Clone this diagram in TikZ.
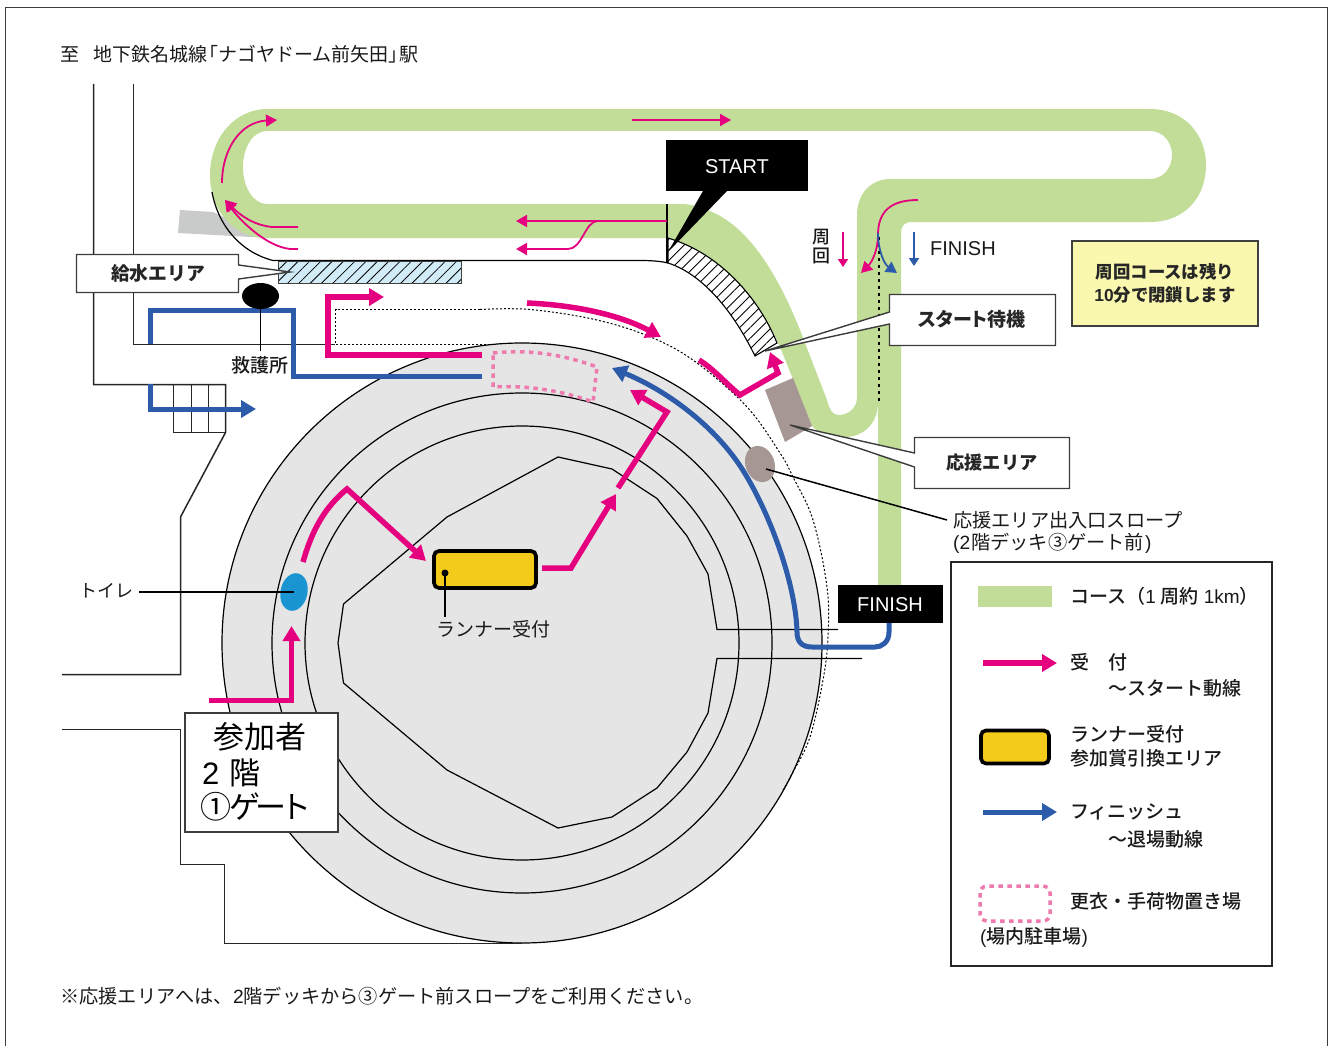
\documentclass[tikz,border=0pt]{standalone}
\usepackage{fontspec}
\setmainfont{Liberation Sans}
\newfontfamily\jp{Noto Sans CJK JP}
\newfontfamily\jpl{Noto Sans CJK JP Medium}
\newfontfamily\jpm{Noto Sans CJK JP}
\newfontfamily\jpp[RawFeature=+palt]{Noto Sans CJK JP}
\newfontfamily\lat{Liberation Sans}
\newfontfamily\latl{Liberation Sans}
\usetikzlibrary{arrows.meta,patterns.meta,shapes.geometric}
\definecolor{course}{HTML}{C1DD97}
\definecolor{mag}{HTML}{E4007F}
\definecolor{blu}{HTML}{2B5BA9}
\definecolor{ygold}{HTML}{F5CB1B}
\definecolor{beige}{HTML}{FAF7AE}
\definecolor{brownish}{HTML}{A69694}
\definecolor{wc}{HTML}{1A95D2}
\definecolor{stadium}{HTML}{E5E5E5}
\definecolor{pinkd}{HTML}{EE7AAE}
\definecolor{stub}{HTML}{C9CACA}
\definecolor{frame}{HTML}{3C3C3C}
\definecolor{waterfill}{HTML}{D2ECF7}
\tikzset{
  jt/.style={inner sep=0pt,font=\jp\fontsize{#1}{#1}\selectfont,text=black!90},
  jl/.style={inner sep=0pt,font=\jpl\fontsize{#1}{#1}\selectfont,text=black!90},
  jb/.style={inner sep=0pt,font=\jpm\bfseries\fontsize{#1}{#1}\selectfont,text=black!85},
  jp/.style={inner sep=0pt,font=\jpp\bfseries\fontsize{#1}{#1}\selectfont,text=black!85},
  wt/.style={inner sep=0pt,font=\latl\fontsize{20}{20}\selectfont,text=white},
  wall/.style={draw=black!85,line width=1.5pt},
  ring/.style={draw=black,line width=1.2pt},
  callout/.style={draw=frame,fill=white,line width=1.4pt,line join=miter},
  magthick/.style={draw=mag,line width=5.5pt,line join=miter},
  bluthick/.style={draw=blu,line width=5pt,line join=miter},
  magthin/.style={draw=mag,line width=1.8pt},
  bluthin/.style={draw=blu,line width=1.8pt},
  bighead/.style={-{Triangle[length=15pt,width=17pt]}},
  smallhead/.style={-{Triangle[length=11pt,width=12pt]}},
  tinyhead/.style={-{Triangle[length=8pt,width=10pt]}},
  pinkdash/.style={draw=pinkd,line width=3.5pt,dash pattern=on 4.5pt off 4.5pt},
}
\begin{document}
\begin{tikzpicture}[x=1pt,y=-1pt]
\useasboundingbox (0,0) rectangle (1330,1046);
% page frame
\draw[frame,line width=1.6pt] (5.5,1046) -- (5.5,7.5) -- (1327.5,7.5) -- (1327.5,1046);

% stadium
\path[fill=stadium,ring] (522,643) circle [radius=300];
\draw[ring] (522,643) circle [radius=250];
\draw[ring] (522,643) circle [radius=217];
\draw[ring] (838,629.5) -- (717,629.5) -- (708,574) -- (687,536) -- (657,498.5) -- (612,469) -- (558,457) -- (447,517) -- (343.5,604) -- (338,643) -- (343.5,683) -- (447,770) -- (558,828) -- (612,817) -- (657,788) -- (687,752) -- (708,713) -- (717,658.5) -- (862,658.5);

% surrounding walls
\draw[wall] (93.5,84) -- (93.5,384.5) -- (225.5,384.5) -- (225.5,432.5) -- (180.5,517) -- (180.5,674.5) -- (62,674.5);
\draw[wall] (133.5,84) -- (133.5,344.5) -- (335,344.5);
\draw[wall] (62,729.5) -- (180.5,729.5) -- (180.5,864.5) -- (224.5,864.5) -- (224.5,943.5) -- (522,943.5);
\draw[wall] (173.5,384.5) -- (173.5,432.5) -- (225.5,432.5);
\draw[wall] (191.5,384.5) -- (191.5,432.5);
\draw[wall] (208.5,384.5) -- (208.5,432.5);
\draw[wall] (173.5,409) -- (225.5,409);

% dotted route
\draw[black,line width=1pt,dash pattern=on 2pt off 2pt] (490,344.5) -- (335.5,344.5) -- (335.5,309.5) -- (480,309.5);
\draw[black,line width=1pt,dash pattern=on 2pt off 2pt] plot[smooth,tension=0.6] coordinates {(480,309.5) (530,309.5) (597,320) (653,338) (697,363) (747,407) (780,453) (793,477) (813,520) (827,587) (828,637) (823,680) (810,737) (793,772) (783,790)};

% grey stub and course
\fill[stub] (180,210) -- (213,212) -- (270,238) -- (178,233) -- cycle;
\fill[course,even odd rule]
  (267,109) -- (1150,109) .. controls (1185,109) and (1206,135) .. (1206,165)
  .. controls (1206,197) and (1185,222) .. (1150,222) -- (911,222)
  .. controls (905,222) and (901,226) .. (901,232) -- (901,590) -- (878,590) -- (878,402)
  .. controls (878,425) and (862,437) .. (845,437) .. controls (832,437) and (820,435) .. (812,426)
  -- (780,347) .. controls (762,305) and (725,255) .. (668,238) -- (267,238)
  .. controls (235,238) and (210,212) .. (210,175) .. controls (210,138) and (235,109) .. (267,109) -- cycle
  (267,131) -- (1150,131) .. controls (1163,131) and (1172,142) .. (1172,155)
  .. controls (1172,168) and (1163,179) .. (1150,179) -- (890,179)
  .. controls (870,179) and (857,195) .. (857,215) -- (857,397)
  .. controls (857,408) and (849,415) .. (838,415) .. controls (832,415) and (829,408) .. (827,400)
  -- (800,330) .. controls (780,280) and (750,225) .. (707,210) .. controls (697,206) and (690,204) .. (680,204)
  -- (267,204) .. controls (253,204) and (243,187) .. (243,167) .. controls (243,147) and (253,131) .. (267,131) -- cycle;

% road edge curve and hatch
\draw[black,line width=1.2pt] (212,192) .. controls (218,225) and (240,252) .. (273,260.5) -- (640,260.5) .. controls (650,260.5) and (660,261) .. (668,263);
\path[fill=white,draw=black,line width=1.1pt,pattern={Lines[angle=45,distance=7.5pt,line width=0.9pt]}]
  (668,238) .. controls (725,255) and (762,305) .. (777,343) -- (755,356) .. controls (735,315) and (705,275) .. (668,263) -- cycle;
\draw[black,line width=2pt] (667,204) -- (667,263);

% water area hatch
\fill[waterfill] (278,261) rectangle (461,283);
\draw[draw=black!75,line width=0.9pt,pattern={Lines[angle=45,distance=8pt,line width=0.8pt]}] (278,261) rectangle (461,283);

% brown areas
\fill[brownish] (765,390) -- (793,378) -- (812,426) -- (785,442) -- cycle;
\fill[brownish,rotate around={20:(760,464)}] (760,464) ellipse [x radius=14.5,y radius=18.5];
\fill[wc,rotate around={-12:(294,592)}] (294,592) ellipse [x radius=13.5,y radius=19];

% dashed cloakroom
\path[pinkdash] (493,353) .. controls (530,349) and (565,355) .. (597,367) -- (593,402) .. controls (560,390) and (525,385) .. (493,387) -- cycle;

% course thin arrows
\draw[magthin,smallhead] (632,120) -- (731,120);
\draw[magthin,smallhead] (222,183) .. controls (222,150) and (240,122) .. (277,120);
\draw[magthin,smallhead] (298,227) -- (272,227) .. controls (253,225) and (240,215) .. (225,200);
\draw[magthin,smallhead] (298,249) -- (290,249) .. controls (265,246) and (240,220) .. (225,200);
\draw[magthin,smallhead] (667,221) -- (516,221);
\draw[magthin,smallhead] (597,221) .. controls (585,222) and (582,249) .. (568,249) -- (516,249);
\draw[black,line width=2pt,dash pattern=on 3pt off 4pt] (879,237) -- (879,402);
\draw[magthin,smallhead] (918,200) .. controls (890,200) and (878,212) .. (878,235) .. controls (878,250) and (872,262) .. (861,273);
\draw[bluthin,smallhead] (878,233) .. controls (878,250) and (884,264) .. (897,273);
\draw[magthin,tinyhead] (843,232) -- (843,267);
\draw[bluthin,tinyhead] (914,232) -- (914,266);

% thick routes
\draw[magthick,bighead] (482,355) -- (328,355) -- (328,297) -- (384,297);
\draw[magthick,bighead] (527,303) .. controls (575,305) and (620,315) .. (661,337);
\draw[magthick,bighead] (699,360) .. controls (715,370) and (725,383) .. (740,395) -- (778,373) -- (770,352);
\draw[magthick,bighead] (209,700.5) -- (291.5,700.5) -- (291.5,626);
\draw[magthick,bighead] (303,562) .. controls (312,530) and (325,507) .. (347,489) -- (426,561);
\draw[magthick,bighead] (542,568) -- (571,568) -- (616,494);
\draw[magthick,bighead] (618,488) -- (667,412) -- (630,390);

\draw[bluthick,bighead] (889,622) -- (889,632) .. controls (889,642) and (882,647) .. (875,647) -- (812,647) .. controls (802,647) and (797,642) .. (797,632) .. controls (796,590) and (775,525) .. (747,477) .. controls (720,430) and (670,392) .. (612,368);
\draw[bluthick] (482,376) -- (293,376) -- (293,310) -- (150,310) -- (150,344);
\draw[bluthick,bighead] (150,384) -- (150,409) -- (256,409);

% medical
\node[ellipse,fill=black,minimum width=37pt,minimum height=26pt,inner sep=0pt] (aid) at (260.5,296) {};
\node[jl=19,anchor=center] (aidt) at (260,365) {救護所};
\draw[black,line width=1.5pt] (260.5,300) -- (260.5,351);

% reception
\node[draw=black,fill=ygold,line width=3.7pt,rounded corners=5pt,minimum width=102pt,minimum height=37pt,inner sep=0pt] (recep) at (485,569.5) {};
\coordinate (recepdot) at (445,573);
\fill[black] (recepdot) circle [radius=3.5];
\node[jt=19,anchor=center] (recept) at (493,629) {ランナー受付};
\draw[black,line width=1.3pt] (recepdot) -- (445,617);

% toilet
\node[jt=18,anchor=center] (wct) at (106,591) {トイレ};
\coordinate (wcc) at (294,592);
\draw[black,line width=1.3pt] (139,592) -- (wcc);

% callouts
\path[callout] (76.5,254.5) -- (238.5,254.5) -- (238.5,265) -- (290,272) -- (238.5,279) -- (238.5,292.5) -- (76.5,292.5) -- cycle;
\node[jb=18.8,anchor=center] (water) at (158,273.5) {給水エリア};
\path[callout] (889.5,294.5) -- (1055.5,294.5) -- (1055.5,345.5) -- (889.5,345.5) -- (889.5,324) -- (765,351) -- (889.5,312) -- cycle;
\node[jp=19,anchor=center] (wait) at (972,319.5) {スタート待機};
\path[callout] (914.5,437.5) -- (1069.5,437.5) -- (1069.5,488.5) -- (914.5,488.5) -- (914.5,467) -- (790,425) -- (914.5,453) -- cycle;
\node[jb=18.2,anchor=center] (cheer) at (992,462.5) {応援エリア};
\coordinate (slope) at (766,469);
\draw[black,line width=1.5pt] (slope) -- (947,520);
\node[jt=19.2,anchor=west] (slopet) at (953,520.5) {応援エリア出入口スロープ};
\node[jt=19.2,anchor=west] (slopeb) at (953,543.5) {{\lat(2}\hspace{1pt}階デッキ③ゲート前\hspace{1pt}{\lat)}};

% START / FINISH
\node[fill=black,minimum width=142pt,minimum height=51pt,inner sep=0pt] (startb) at (737,165.5) {};
\fill[black] (703,191) -- (727,191) -- (668,252) -- cycle;
\node[wt] (startt) at (737,166.5) {START};
\node[fill=black,minimum width=105pt,minimum height=38pt,inner sep=0pt] (finb) at (890.5,603.5) {};
\node[wt] (fint) at (890,604.5) {FINISH};

% small labels
\node[jl=18,anchor=center] (syu) at (821,237.5) {周};
\node[jl=18,anchor=center] (kai) at (821,256) {回};
\node[inner sep=0pt,anchor=west,font=\lat\fontsize{20}{20}\selectfont,text=black!90] (fin2) at (930,249) {FINISH};

% notice
\node[draw=black!75,fill=beige,line width=1.3pt,minimum width=186pt,minimum height=85pt,inner sep=0pt] (noticeb) at (1165,283.5) {};
\node[jb=17.4,anchor=center] (notice1) at (1165,272) {周回コースは残り};
\node[jb=17.4,anchor=center] (notice2) at (1165,295) {{\lat\bfseries 10}分で閉鎖します};

% participants box
\node[draw=frame,fill=white,line width=1.4pt,minimum width=153pt,minimum height=119pt,inner sep=0pt] (partb) at (261.5,772.5) {};
\node[jt=31,anchor=center,text=black] (part1) at (260,737) {参加者};
\node[jt=31,anchor=west,text=black] (part2) at (202,772.5) {{\lat 2}\hspace{10pt}階};
\node[jt=31,anchor=west,text=black] (part3) at (200,807) {①\hspace{-2pt}ゲ\hspace{-5pt}ー\hspace{-6pt}ト};

% titles
\node[jt=19,anchor=west] (title) at (60,54) {至\hspace{14pt}地下鉄名城線\hspace{-8pt}「ナゴヤドーム前矢田」\hspace{-8pt}駅};
\node[jt=19.2,anchor=west] (foot) at (60,996) {※応援エリアへは、{\lat 2}階デッキから③ゲート前スロープをご利用ください。};

% legend
\node[draw=black!85,line width=1.3pt,minimum width=321pt,minimum height=404pt,inner sep=0pt] (legend) at (1111.5,764) {};
\fill[course] (978,586) rectangle (1052,607);
\node[jl=19,anchor=west] (l1) at (1070,596) {コース（{\latl 1}\hspace{5pt}周約\hspace{5pt}{\latl 1km}）};
\draw[magthick,bighead] (983,663) -- (1057,663);
\node[jl=19,anchor=west] (l2a) at (1070,662) {受\hspace{19pt}付};
\node[jl=19,anchor=west] (l2b) at (1108,688) {～スタート動線};
\node[draw=black,fill=ygold,line width=3.7pt,rounded corners=5pt,minimum width=68pt,minimum height=33pt,inner sep=0pt] (lyel) at (1015,747) {};
\node[jl=19,anchor=west] (l3a) at (1070,734) {ランナー受付};
\node[jl=19,anchor=west] (l3b) at (1070,758) {参加賞引換エリア};
\draw[bluthick,bighead] (983,812) -- (1057,812);
\node[jl=19,anchor=west] (l4a) at (1070,812) {フィニッシュ};
\node[jl=19,anchor=west] (l4b) at (1108,839) {～退場動線};
\path[pinkdash,rounded corners=7pt] (980,886) rectangle (1050,921);
\node[jl=19,anchor=west] (l5a) at (1070,901) {更衣・手荷物置き場};
\node[jl=19,anchor=west] (l5b) at (980,937) {{\latl(}場内駐車場{\latl)}};
\end{tikzpicture}
\end{document}
